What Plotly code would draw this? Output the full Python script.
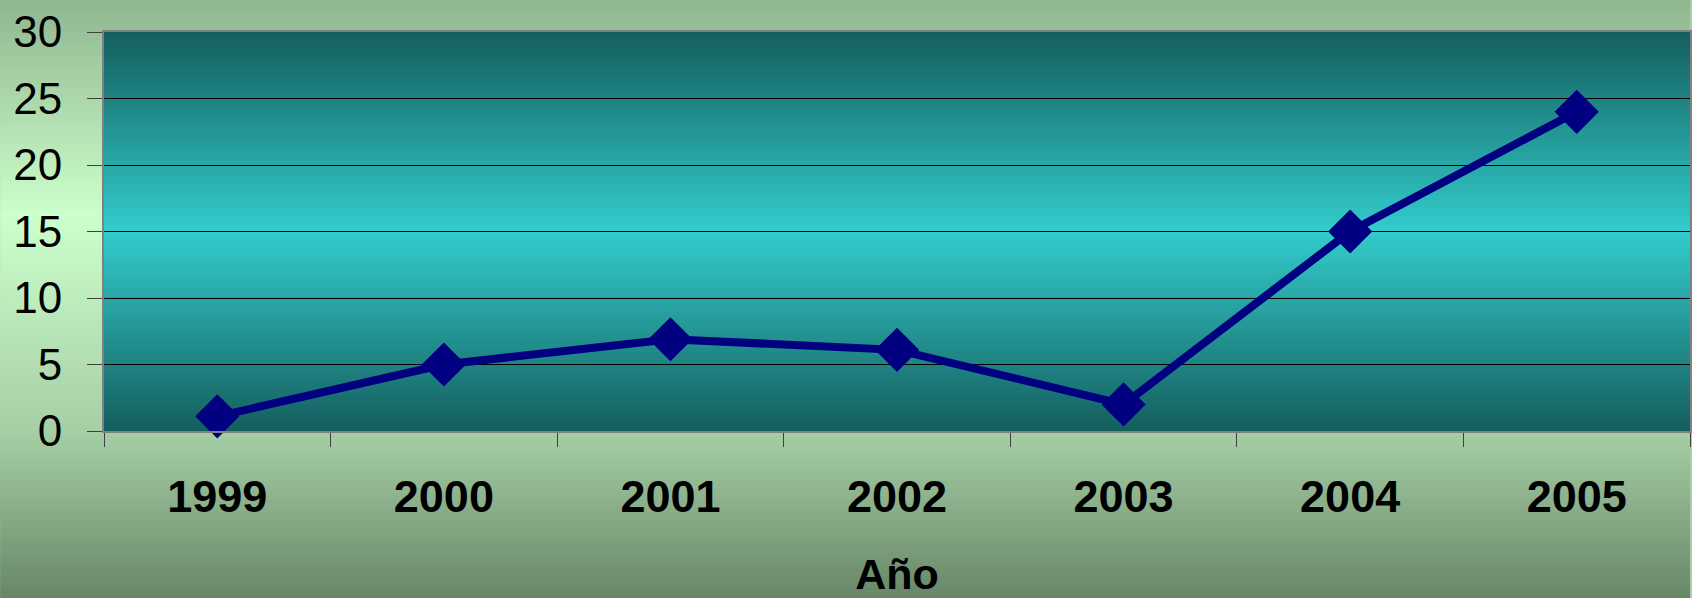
import plotly.graph_objects as go

years = ["1999", "2000", "2001", "2002", "2003", "2004", "2005"]
values = [1.1, 5, 6.9, 6.1, 2, 15, 24]
y_ticks = [0, 5, 10, 15, 20, 25, 30]
x_title = "Año"

W, H = 1692, 598
ML, MR, MT, MB = 104, 0, 32, 167
PW, PH = W - ML - MR, H - MT - MB


def lerp(c1, c2, t):
    return tuple(round(a + (b - a) * t) for a, b in zip(c1, c2))


def grad(stops, t):
    for (t0, c0), (t1, c1) in zip(stops, stops[1:]):
        if t0 <= t <= t1:
            return lerp(c0, c1, (t - t0) / (t1 - t0) if t1 > t0 else 0)
    return stops[-1][1]


def py_to_paper(py):
    return (H - MB - py) / PH


def px_to_paper(px):
    return (px - ML) / PW


shapes = []
# paper background gradient
paper_stops = [(0, (0x90, 0xB6, 0x90)), (215, (0xCC, 0xFF, 0xCC)),
               (431, (0xA6, 0xCF, 0xA6)), (598, (0x68, 0x87, 0x68))]
step = 4
for py in range(0, H, step):
    c = grad(paper_stops, py + step / 2)
    shapes.append(dict(type="rect", xref="paper", yref="paper", layer="below",
                       x0=px_to_paper(0), x1=px_to_paper(W),
                       y0=py_to_paper(min(py + step + 0.5, H)), y1=py_to_paper(py),
                       fillcolor="rgb(%d,%d,%d)" % c, line=dict(width=0)))
# plot area gradient
plot_stops = [(MT, (0x15, 0x5E, 0x5E)), (MT + PH / 2, (0x33, 0xCC, 0xCC)),
              (MT + PH, (0x15, 0x5E, 0x5E))]
for py in range(MT, MT + PH, step):
    c = grad(plot_stops, py + step / 2)
    shapes.append(dict(type="rect", xref="paper", yref="paper", layer="below",
                       x0=0, x1=1,
                       y0=max(0, py_to_paper(min(py + step + 0.5, MT + PH))), y1=py_to_paper(py),
                       fillcolor="rgb(%d,%d,%d)" % c, line=dict(width=0)))

fig = go.Figure()
fig.add_trace(go.Scatter(
    x=years, y=values, mode="lines+markers",
    line=dict(color="#000080", width=8),
    marker=dict(symbol="diamond", size=34, color="#000080"),
    showlegend=False, cliponaxis=False,
))

fig.update_layout(
    width=W, height=H,
    margin=dict(l=ML, r=MR, t=MT, b=MB, pad=0),
    paper_bgcolor="#a6cfa6",
    plot_bgcolor="rgba(0,0,0,0)",
    shapes=shapes,
    font=dict(family="Liberation Sans, Arial, sans-serif", color="black"),
)
fig.update_xaxes(
    type="category", range=[-0.5, 6.5], tickson="boundaries",
    ticks="outside", ticklen=14, tickcolor="#404040", tickwidth=1,
    tickfont=dict(size=45, family="Liberation Sans, Arial, sans-serif", weight="bold"),
    ticklabelstandoff=25,
    showgrid=False, showline=True, linecolor="#808080", linewidth=2, mirror=True,
    title=dict(text="<b>" + x_title + "</b>", font=dict(size=43), standoff=45),
    zeroline=False,
)
fig.update_yaxes(
    range=[0, 30], tickvals=y_ticks, ticks="outside", ticklen=15,
    tickcolor="#404040", tickwidth=1,
    tickfont=dict(size=44),
    ticklabelstandoff=16,
    showgrid=True, gridcolor="black", gridwidth=1,
    showline=True, linecolor="#808080", linewidth=2, mirror=True,
    zeroline=False,
)

fig.write_html(
    "out.html", config={"displayModeBar": False},
    post_script="document.body.style.margin='0';",
)
